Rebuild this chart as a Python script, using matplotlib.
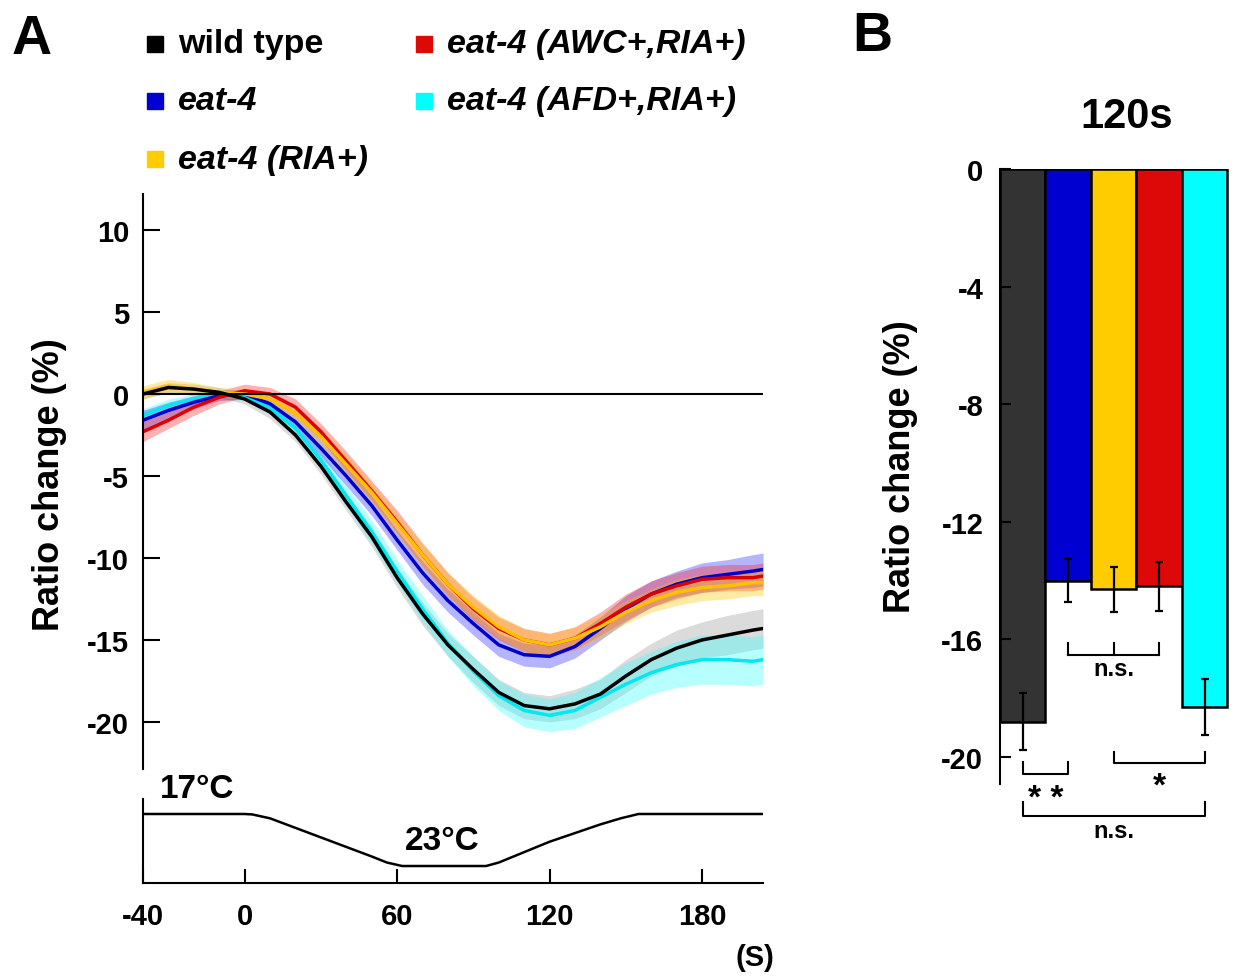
import matplotlib
matplotlib.use("Agg")
import matplotlib.pyplot as plt
from matplotlib.lines import Line2D
import numpy as np

plt.rcParams['font.family'] = ['Liberation Sans', 'DejaVu Sans']
plt.rcParams['font.weight'] = 'bold'
plt.rcParams['axes.unicode_minus'] = False

# ---------------- data ----------------
time_s = [-40, -30, -20, -10, 0, 10, 20, 30, 40, 50, 60, 70, 80, 90,
          100, 110, 120, 130, 140, 150, 160, 170, 180, 190, 200, 204]

wt_mean = [0.0, 0.4, 0.3, 0.1, -0.3, -1.1, -2.5, -4.4, -6.6, -8.7, -11.2, -13.4, -15.3, -16.8,
           -18.2, -19.0, -19.2, -18.9, -18.3, -17.2, -16.2, -15.5, -15.0, -14.7, -14.4, -14.3]
wt_sem = [0.3, 0.3, 0.3, 0.3, 0.3, 0.4, 0.4, 0.5, 0.5, 0.6, 0.6, 0.7, 0.7, 0.8,
          0.8, 0.8, 0.8, 0.9, 0.9, 1.0, 1.0, 1.1, 1.1, 1.2, 1.2, 1.2]

eat4_mean = [-1.6, -1.0, -0.5, -0.1, 0.0, -0.6, -1.7, -3.3, -5.0, -6.8, -8.9, -10.9, -12.6, -14.0,
             -15.3, -15.9, -16.0, -15.4, -14.3, -13.1, -12.2, -11.6, -11.2, -11.0, -10.8, -10.7]
eat4_sem = [0.6, 0.5, 0.4, 0.3, 0.3, 0.4, 0.5, 0.5, 0.6, 0.6, 0.6, 0.7, 0.7, 0.7,
            0.7, 0.7, 0.7, 0.7, 0.7, 0.8, 0.8, 0.8, 0.9, 0.9, 1.0, 1.0]

ria_mean = [0.1, 0.5, 0.3, 0.1, 0.0, -0.3, -1.2, -2.6, -4.3, -6.0, -7.9, -9.8, -11.6, -13.0,
            -14.2, -15.0, -15.3, -14.9, -14.2, -13.3, -12.6, -12.1, -11.8, -11.7, -11.5, -11.5]
ria_sem = [0.4, 0.4, 0.4, 0.3, 0.3, 0.4, 0.5, 0.5, 0.6, 0.6, 0.6, 0.7, 0.7, 0.7,
           0.7, 0.7, 0.7, 0.7, 0.7, 0.7, 0.7, 0.8, 0.8, 0.8, 0.8, 0.8]

awc_mean = [-2.3, -1.6, -0.8, -0.2, 0.2, 0.0, -0.8, -2.3, -4.1, -5.9, -7.8, -9.8, -11.6, -13.1,
            -14.3, -15.0, -15.3, -14.9, -14.0, -13.0, -12.2, -11.7, -11.3, -11.2, -11.2, -11.1]
awc_sem = [0.6, 0.5, 0.5, 0.4, 0.4, 0.4, 0.5, 0.5, 0.6, 0.6, 0.7, 0.7, 0.7, 0.7,
           0.7, 0.7, 0.7, 0.7, 0.7, 0.8, 0.8, 0.8, 0.8, 0.8, 0.8, 0.8]

afd_mean = [-1.3, -0.7, -0.3, 0.0, -0.1, -0.8, -2.1, -4.0, -6.2, -8.4, -10.8, -13.1, -15.2, -16.9,
            -18.4, -19.3, -19.6, -19.3, -18.5, -17.7, -17.0, -16.5, -16.2, -16.2, -16.3, -16.2]
afd_sem = [0.4, 0.4, 0.3, 0.3, 0.3, 0.4, 0.5, 0.5, 0.6, 0.7, 0.7, 0.8, 0.8, 0.9,
           0.9, 1.0, 1.0, 1.1, 1.2, 1.3, 1.3, 1.4, 1.5, 1.5, 1.5, 1.5]

# temperature stimulus
temp_time = [-40, 0, 3, 10, 20, 30, 40, 50, 56, 62, 95, 100, 110, 120, 130, 140, 148, 155, 204]
temp_c = [17, 17, 17.05, 17.5, 18.6, 19.7, 20.8, 21.9, 22.6, 23, 23, 22.6, 21.4, 20.2, 19.2,
          18.2, 17.5, 17, 17]

# panel B: ratio change at 120 s
bar_labels = ['wild type', 'eat-4', 'eat-4 (RIA+)', 'eat-4 (AWC+,RIA+)', 'eat-4 (AFD+,RIA+)']
bar_means = [-18.8, -14.0, -14.3, -14.2, -18.3]
bar_sems = [0.96, 0.72, 0.77, 0.82, 0.95]

line_colors = ['#000000', '#0000cc', '#ffc000', '#dd0000', '#00e8f0']
band_colors = ['#999999', '#2a2aff', '#ffc400', '#ff2020', '#33ffff']
bar_colors = ['#333333', '#0000d0', '#ffcc00', '#dd0808', '#00ffff']

W, H = 1236, 978


def fx(px):
    return px / W


def fy(py):
    return 1 - py / H


fig = plt.figure(figsize=(12.36, 9.78), dpi=100)

# ---------------- panel A: traces ----------------
ax_a = fig.add_axes([fx(143), fy(770), 620 / W, 575 / H])
t = np.array(time_s)
series = [
    (wt_mean, wt_sem),
    (afd_mean, afd_sem),
    (eat4_mean, eat4_sem),
    (awc_mean, awc_sem),
    (ria_mean, ria_sem),
]
order_colors = [0, 4, 1, 3, 2]
for (m, s), ci in zip(series, order_colors):
    m = np.array(m)
    s = np.array(s)
    ax_a.fill_between(t, m - s, m + s, color=band_colors[ci], alpha=0.35, lw=0)
for (m, s), ci in zip(series, order_colors):
    if ci == 0:
        continue
    ax_a.plot(t, m, color=line_colors[ci], lw=2.5)
ax_a.plot(t, wt_mean, color='black', lw=2.5)
ax_a.axhline(0, color='black', lw=1.5)

ax_a.set_xlim(-40, 204)
ax_a.set_ylim(-22.87, 12.2)
for sp in ['top', 'right', 'bottom']:
    ax_a.spines[sp].set_visible(False)
ax_a.spines['left'].set_linewidth(1.5)
ax_a.set_xticks([])
ax_a.set_yticks([-20, -15, -10, -5, 0, 5, 10])
ax_a.tick_params(axis='y', direction='in', length=12, width=1.5, labelsize=21, pad=10)

fig.text(fx(50), fy(485), 'Ratio change (%)', rotation=90, ha='center', va='center',
         fontsize=26, fontweight='bold')

# ---------------- panel A: temperature ----------------
ax_t = fig.add_axes([fx(143), fy(884), 620 / W, 84 / H])
ax_t.plot(temp_time, temp_c, color='black', lw=1.8)
ax_t.set_xlim(-40, 204)
ax_t.set_ylim(24.96, 15.27)
for sp in ['top', 'right']:
    ax_t.spines[sp].set_visible(False)
ax_t.spines['left'].set_linewidth(1.5)
ax_t.spines['bottom'].set_linewidth(1.5)
ax_t.set_yticks([])
ax_t.set_xticks([-40, 0, 60, 120, 180])
ax_t.tick_params(axis='x', direction='in', length=10, width=1.5, labelsize=21, pad=14)
ax_t.text(-33.5, 14.1, '17°C', fontsize=24, fontweight='bold', ha='left', va='center')
ax_t.text(77.6, 20.1, '23°C', fontsize=24, fontweight='bold', ha='center', va='center')
fig.text(fx(755), fy(958), '(S)', fontsize=21, fontweight='bold', ha='center', va='center')

# legend
legend_items = [
    ('wild type', 0, 155, 45, 'normal'),
    ('eat-4', 1, 155, 102, 'italic'),
    ('eat-4 (RIA+)', 2, 155, 160, 'italic'),
    ('eat-4 (AWC+,RIA+)', 3, 424, 45, 'italic'),
    ('eat-4 (AFD+,RIA+)', 4, 424, 102, 'italic'),
]
for lab, ci, xm, ym, st in legend_items:
    fig.add_artist(Line2D([fx(xm)], [fy(ym)], marker='s', ms=12, color=bar_colors[ci] if ci else '#000000',
                          lw=0, transform=fig.transFigure))
    fig.text(fx(xm + 23), fy(ym), lab, fontsize=24.5, fontweight='bold', style=st,
             ha='left', va='center')

fig.text(fx(32), fy(40), 'A', fontsize=40, fontweight='bold', ha='center', va='center')
fig.text(fx(872), fy(37), 'B', fontsize=40, fontweight='bold', ha='center', va='center')

# ---------------- panel B ----------------
ax_b = fig.add_axes([fx(1000), fy(785), 232 / W, 615 / H])
xb = np.arange(len(bar_means))
ax_b.bar(xb, bar_means, width=1.0, color=bar_colors, edgecolor='black', lw=1.8,
         yerr=bar_sems, capsize=3,
         error_kw=dict(ecolor='black', elinewidth=1.6, capthick=1.6))
ax_b.set_xlim(-0.5, 4.6)
ax_b.set_ylim(-20.92, 0)
for sp in ['top', 'right', 'bottom']:
    ax_b.spines[sp].set_visible(False)
ax_b.spines['left'].set_linewidth(1.5)
ax_b.set_xticks([])
ax_b.set_yticks([0, -4, -8, -12, -16, -20])
ax_b.tick_params(axis='y', direction='in', length=8, width=1.5, labelsize=21, pad=12)
fig.text(fx(900), fy(467), 'Ratio change (%)', rotation=90, ha='center', va='center',
         fontsize=26, fontweight='bold')
fig.text(fx(1127), fy(117), '120s', fontsize=30, fontweight='bold', ha='center', va='center')

kw = dict(color='black', lw=1.5, clip_on=False)
# n.s. among eat-4 groups
ax_b.plot([1, 3], [-16.53, -16.53], **kw)
for xi in [1, 2, 3]:
    ax_b.plot([xi, xi], [-16.53, -16.12], **kw)
ax_b.text(2, -17.0, 'n.s.', fontsize=17, fontweight='bold', ha='center', va='center')
# ** wild type vs eat-4
ax_b.plot([0, 0, 1, 1], [-20.17, -20.58, -20.58, -20.17], **kw)
ax_b.text(0.5, -21.4, '* *', fontsize=24, fontweight='bold', ha='center', va='center')
# * RIA+ vs AFD+
ax_b.plot([2, 2, 4, 4], [-19.83, -20.2, -20.2, -19.83], **kw)
ax_b.text(3, -21.0, '*', fontsize=24, fontweight='bold', ha='center', va='center')
# n.s. wild type vs AFD+
ax_b.plot([0, 0, 4, 4], [-21.53, -22.0, -22.0, -21.53], **kw)
ax_b.text(2, -22.5, 'n.s.', fontsize=17, fontweight='bold', ha='center', va='center')

fig.savefig('out.png', dpi=100)
